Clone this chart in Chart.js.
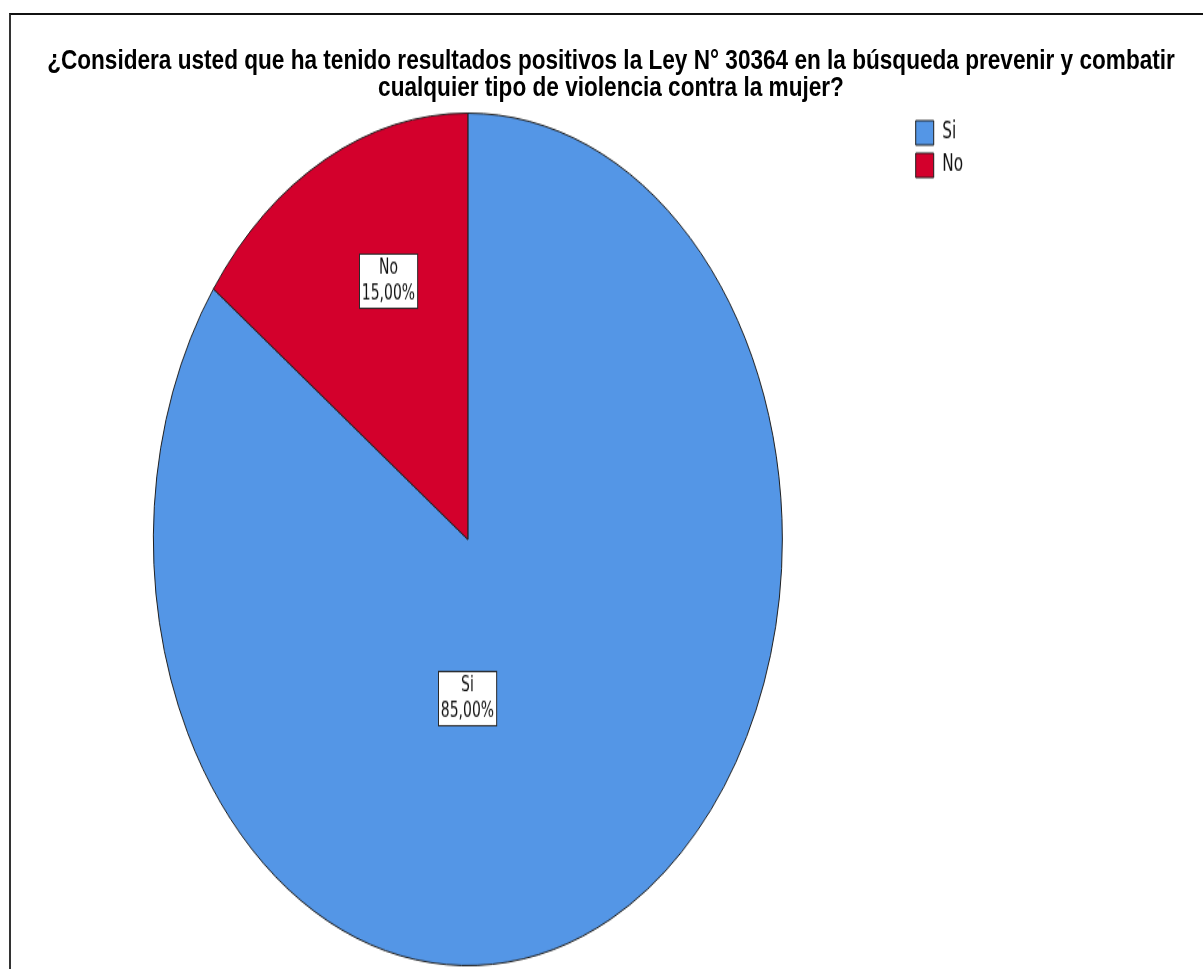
<!DOCTYPE html>
<html>
<head>
<meta charset="utf-8">
<title>Ley N° 30364</title>
<script src="https://cdn.jsdelivr.net/npm/chart.js@4.4.0/dist/chart.umd.min.js"></script>
<style>
body { margin: 0; background: #fff; width: 1203px; height: 969px; overflow: hidden; position: relative; }
#frame { position: absolute; left: 9px; top: 13px; width: 1200px; height: 970px; border-top: 2px solid #111; border-left: 2px solid #333; }
#title { position: absolute; left: 20px; width: 1182px; top: 47px; text-align: center; font: bold 22.6px 'Liberation Sans', Arial, sans-serif; line-height: 22.1px; color: #000; transform: scaleY(1.22); transform-origin: 0 0; white-space: nowrap; }
#canvas { position: absolute; left: 0; top: 0; transform: scaleY(1.3552); transform-origin: 0 0; }
</style>
</head>
<body>
<div id="frame"></div>
<canvas id="canvas" width="1203" height="715"></canvas>
<div id="title">¿Considera usted que ha tenido resultados positivos la Ley N° 30364 en la búsqueda prevenir y combatir<br>cualquier tipo de violencia contra la mujer?</div>
<script>
'use strict';

var categories = ['Si', 'No'];
var percentages = [85, 15];
var sliceColors = ['rgb(84, 150, 230)', 'rgb(211, 0, 44)'];

// where SPSS put the value boxes (angle in degrees, fraction of radius)
var labelAnchor = [{angle: 90.2, r: 0.373}, {angle: -112.6, r: 0.657}];

var narrowFont = "'Liberation Sans Narrow', 'DejaVu Sans Condensed', Arial, sans-serif";

function fmtPct(v) {
	return v.toFixed(2).replace('.', ',') + '%';
}

var sliceLabels = {
	id: 'sliceLabels',
	afterDatasetsDraw: function(chart) {
		var ctx = chart.ctx;
		var meta = chart.getDatasetMeta(0);
		ctx.save();
		ctx.font = '15.5px ' + narrowFont;
		ctx.textAlign = 'center';
		ctx.textBaseline = 'middle';
		meta.data.forEach(function(arc, i) {
			var a = labelAnchor[i].angle * Math.PI / 180;
			var x = arc.x + Math.cos(a) * arc.outerRadius * labelAnchor[i].r;
			var y = arc.y + Math.sin(a) * arc.outerRadius * labelAnchor[i].r;
			var lines = [categories[i], fmtPct(percentages[i])];
			var w = Math.max(ctx.measureText(lines[0]).width, ctx.measureText(lines[1]).width) + 5;
			var h = 40;
			var bx = Math.round(x - w / 2) + 0.5, by = Math.round(y - h / 2) + 0.5;
			ctx.fillStyle = '#fff';
			ctx.fillRect(bx, by, w, h);
			ctx.strokeStyle = '#2a2a2a';
			ctx.lineWidth = 1;
			ctx.strokeRect(bx, by, w, h);
			ctx.fillStyle = '#111';
			ctx.fillText(lines[0], x, y - 9.5);
			ctx.fillText(lines[1], x, y + 9.5);
		});
		ctx.restore();
	}
};

window.onload = function() {
	var ctx = document.getElementById('canvas').getContext('2d');
	window.myPie = new Chart(ctx, {
		type: 'pie',
		data: {
			labels: categories,
			datasets: [{
				data: percentages,
				backgroundColor: sliceColors,
				borderColor: '#1e1e1e',
				borderWidth: 1
			}]
		},
		options: {
			responsive: false,
			animation: false,
			layout: {
				padding: {top: 83, bottom: 2, left: 26, right: 230}
			},
			plugins: {
				legend: {
					position: 'right',
					align: 'start',
					labels: {
						boxWidth: 18,
						boxHeight: 18,
						padding: 6,
						color: '#111',
						font: {family: narrowFont, size: 17}
					}
				},
				title: {display: false},
				tooltip: {enabled: false}
			}
		},
		plugins: [sliceLabels]
	});
};
</script>
</body>
</html>
